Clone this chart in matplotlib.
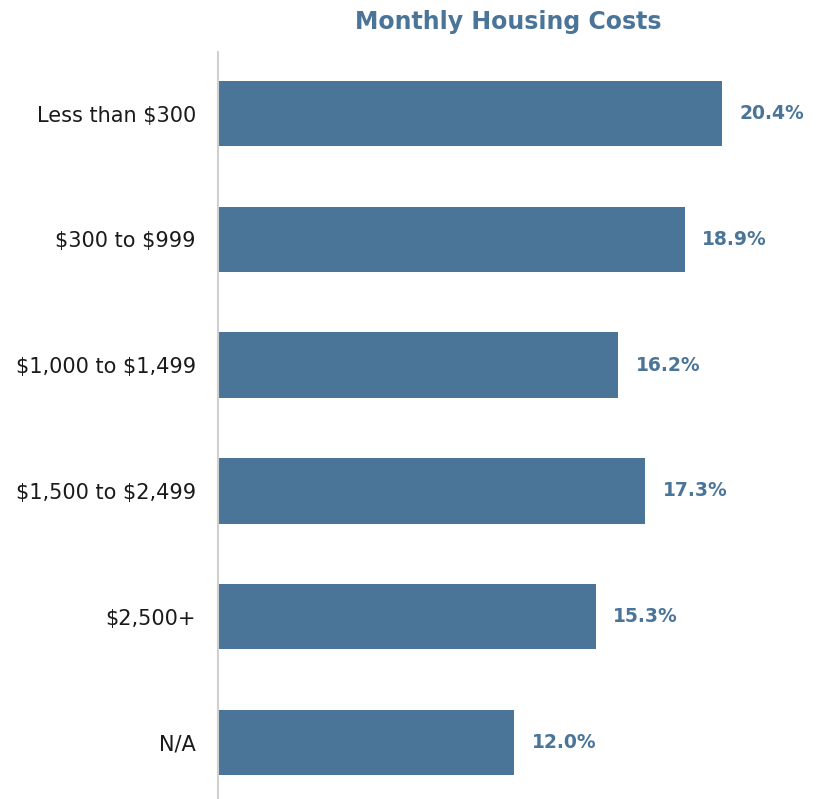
import matplotlib.pyplot as plt

# data
categories = ["Less than $300", "$300 to $999", "$1,000 to $1,499",
              "$1,500 to $2,499", "$2,500+", "N/A"]
shares = [20.4, 18.9, 16.2, 17.3, 15.3, 12.0]

blue = '#4a7599'
plt.rcParams['font.family'] = ['DejaVu Sans']
plt.rcParams['text.parse_math'] = False

fig = plt.figure(figsize=(8.25, 7.99), dpi=100)
ax = fig.add_axes([218 / 825, 0, 1 - 218 / 825, 1 - 52 / 799])

ypos = list(range(len(categories)))
ax.barh(ypos, shares, height=0.52, color=blue)
ax.set_xlim(0, 24.57)
ax.set_ylim(5.45, -0.49)

for y, v in zip(ypos, shares):
	ax.text(v + 0.7, y, '%.1f%%' % v, va='center', ha='left',
			fontsize=13.5, fontweight='bold', color=blue)

ax.set_yticks(ypos)
ax.set_yticklabels(categories, fontsize=15, color='#1a1a1a')
ax.tick_params(axis='y', length=0, pad=16)
ax.set_xticks([])
for side in ['top', 'right', 'bottom']:
	ax.spines[side].set_visible(False)
ax.spines['left'].set_color('#d0d0d0')
ax.spines['left'].set_linewidth(1.5)

fig.text(508 / 825, 1 - 22 / 799, "Monthly Housing Costs", ha='center', va='center',
		 fontsize=17, fontweight='bold', color=blue)

fig.savefig('out.png', dpi=100)
